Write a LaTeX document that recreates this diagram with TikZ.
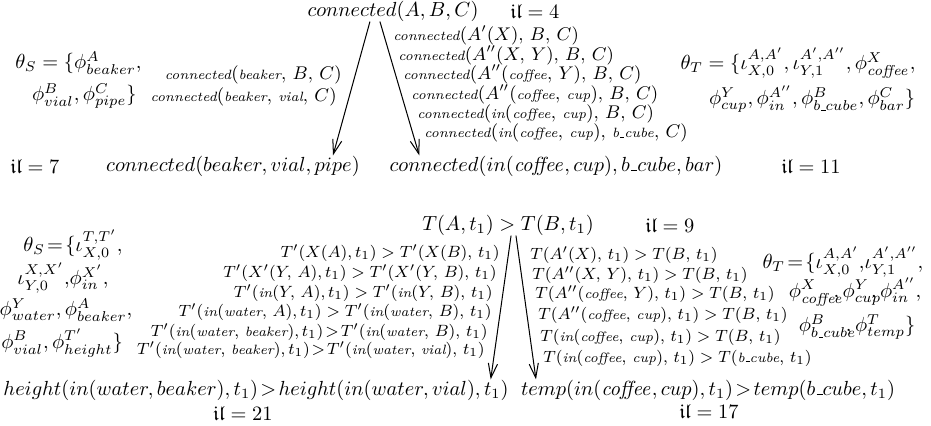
\documentclass[tikz,border=0pt]{standalone}
\usepackage{amsmath}
\usepackage{amssymb}
\usetikzlibrary{arrows.meta}

% small italic words inside the rewrite steps
\newcommand{\ob}[1]{\text{\fontsize{6.6}{8}\selectfont\itshape #1}}
% short underscore
\newcommand{\us}{\text{\kern.06em\vbox{\hrule width .3em}}}

\begin{document}
\begin{tikzpicture}[x=0.49pt, y=-0.49pt,
        term/.style={inner sep=0pt},
        lbl/.style={inner sep=0pt, font=\small},
        lblb/.style={inner sep=0pt, font=\fontsize{8.5}{10}\selectfont},
        rew/.style={-{Straight Barb[length=7pt,width=4.5pt]}, line width=0.5pt}
    ]
    \useasboundingbox (0,0) rectangle (931,426);

    % connected: source, results, steps
    \node[term] (top) at (393,11) {$connected(A,B,C)$};
    \node[term] (il4) at (535,11) {$\mathfrak{il} = 4$};
    \node[term, anchor=east] (thSa) at (142,63) {$\theta_S = \{\phi^A_{beaker},$};
    \node[term, anchor=east] (thSb) at (137,96) {$\phi^B_{vial}, \phi^C_{pipe}\}$};
    \node[term] (thTa) at (798,63) {$\theta_T = \{\iota^{A,A'}_{X,0}, \iota^{A',A''}_{Y,1}, \phi^X_{\mathit{coffee}},$};
    \node[term] (thTb) at (812,99) {$\phi^Y_{cup}, \phi^{A''}_{in}, \phi^B_{b\us cube}, \phi^C_{bar}\}$};

    \node[lbl, anchor=east] (l1) at (342,75) {$\ob{connected}(\ob{beaker},\,B,\,C)$};
    \node[lbl, anchor=east] (l2) at (337,97) {$\ob{connected}(\ob{beaker},\,\ob{vial},\,C)$};

    \node[lbl, anchor=west] (r1) at (393,35) {$\ob{connected}(A'(X),\,B,\,C)$};
    \node[lbl, anchor=west] (r2) at (398,55) {$\ob{connected}(A''(X,\,Y),\,B,\,C)$};
    \node[lbl, anchor=west] (r3) at (403,74) {$\ob{connected}(A''(\ob{coffee},\,Y),\,B,\,C)$};
    \node[lbl, anchor=west] (r4) at (411,94) {$\ob{connected}(A''(\ob{coffee},\,\ob{cup}),\,B,\,C)$};
    \node[lbl, anchor=west] (r5) at (417,114) {$\ob{connected}(\ob{in}(\ob{coffee},\,\ob{cup}),\,B,\,C)$};
    \node[lbl, anchor=west] (r6) at (424,133) {$\ob{connected}(\ob{in}(\ob{coffee},\,\ob{cup}),\,\ob{b\us cube},\,C)$};

    \node[term] (il7) at (35,166) {$\mathfrak{il} = 7$};
    \node[term] (srcA) at (233,166) {$connected(beaker, vial, pipe)$};
    \node[term] (tgtA) at (556,166) {$connected(in(\mathit{coffee}, cup), b\us cube, bar)$};
    \node[term] (il11) at (811,166) {$\mathfrak{il} = 11$};

    \draw[rew] ([xshift=-11.3pt]top.south) -- ([xshift=49pt]srcA.north);
    \draw[rew] ([xshift=-6.4pt]top.south) -- ([xshift=-67pt]tgtA.north);

    % T: source, results, steps
    \node[term] (top2) at (508,225) {$T(A,t_1) > T(B,t_1)$};
    \node[term] (il9) at (670,225) {$\mathfrak{il} = 9$};
    \node[term] (thSc) at (73,245) {$\theta_S\!=\!\{\iota^{T,T'}_{X,0},$};
    \node[term] (thSd) at (63,278) {$\iota^{X,X'}_{Y,0},\!\phi^{X'}_{in},$};
    \node[term] (thSe) at (66,310) {$\phi^Y_{water}, \phi^A_{beaker},$};
    \node[term] (thSf) at (62,343) {$\phi^B_{vial}, \phi^{T'}_{height}\}$};
    \node[term] (thTc) at (843,262) {$\theta_T\!=\!\{\iota^{A,A'}_{X,0},\!\iota^{A',A''}_{Y,1},$};
    \node[term] (thTd) at (855,292) {$\phi^X_{\mathit{coffee}}\!\!\!,\phi^Y_{cup}\!\!\!,\phi^{A''}_{in},$};
    \node[term] (thTe) at (857,327) {$\phi^B_{b\us cube}\!\!\!,\phi^T_{temp}\}$};

    \node[lblb, anchor=east] (m1) at (500,253) {$T'(X(A),t_1) > T'(X(B),\,t_1)$};
    \node[lblb, anchor=east] (m2) at (497,273) {$T'(X'(Y,\,A),t_1) > T'(X'(Y,\,B),\,t_1)$};
    \node[lblb, anchor=east] (m3) at (493,293) {$T'(\ob{in}(Y,\,A),t_1) > T'(\ob{in}(Y,\,B),\,t_1)$};
    \node[lblb, anchor=east] (m4) at (492,312) {$T'(\ob{in}(\ob{water},\,A),t_1) > T'(\ob{in}(\ob{water},\,B),\,t_1)$};
    \node[lblb, anchor=east] (m5) at (488,332) {$T'(\ob{in}(\ob{water},\,\ob{beaker}),t_1)\!>\!T'(\ob{in}(\ob{water},\,B),\,t_1)$};
    \node[lblb, anchor=east] (m6) at (485,350) {$T'(\ob{in}(\ob{water},\,\ob{beaker}),t_1)\!>\!T'(\ob{in}(\ob{water},\,\ob{vial}),\,t_1)$};

    \node[lblb, anchor=west] (n1) at (530,255) {$T(A'(X),\,t_1) > T(B,\,t_1)$};
    \node[lblb, anchor=west] (n2) at (532,275) {$T(A''(X,\,Y),\,t_1) > T(B,\,t_1)$};
    \node[lblb, anchor=west] (n3) at (535,294) {$T(A''(\ob{coffee},\,Y),\,t_1) > T(B,\,t_1)$};
    \node[lblb, anchor=west] (n4) at (538,315) {$T(A''(\ob{coffee},\,\ob{cup}),\,t_1) > T(B,\,t_1)$};
    \node[lblb, anchor=west] (n5) at (540,337) {$T(\ob{in}(\ob{coffee},\,\ob{cup}),\,t_1) > T(B,\,t_1)$};
    \node[lblb, anchor=west] (n6) at (543,358) {$T(\ob{in}(\ob{coffee},\,\ob{cup}),\,t_1) > T(\ob{b\us cube},\,t_1)$};

    \node[term] (srcB) at (256,390) {$height(in(water, beaker),t_1)\!>\!height(in(water, vial),t_1)$};
    \node[term] (il21) at (243,413) {$\mathfrak{il} = 21$};
    \node[term] (tgtB) at (708,390) {$temp(in(\mathit{coffee}, cup),t_1)\!>\!temp(b\us cube,t_1)$};
    \node[term] (il17) at (709,411) {$\mathfrak{il} = 17$};

    \draw[rew] ([xshift=1.5pt]top2.south) -- ([xshift=115pt]srcB.north);
    \draw[rew] ([xshift=3.9pt]top2.south) -- ([xshift=-84.3pt]tgtB.north);

\end{tikzpicture}
\end{document}
